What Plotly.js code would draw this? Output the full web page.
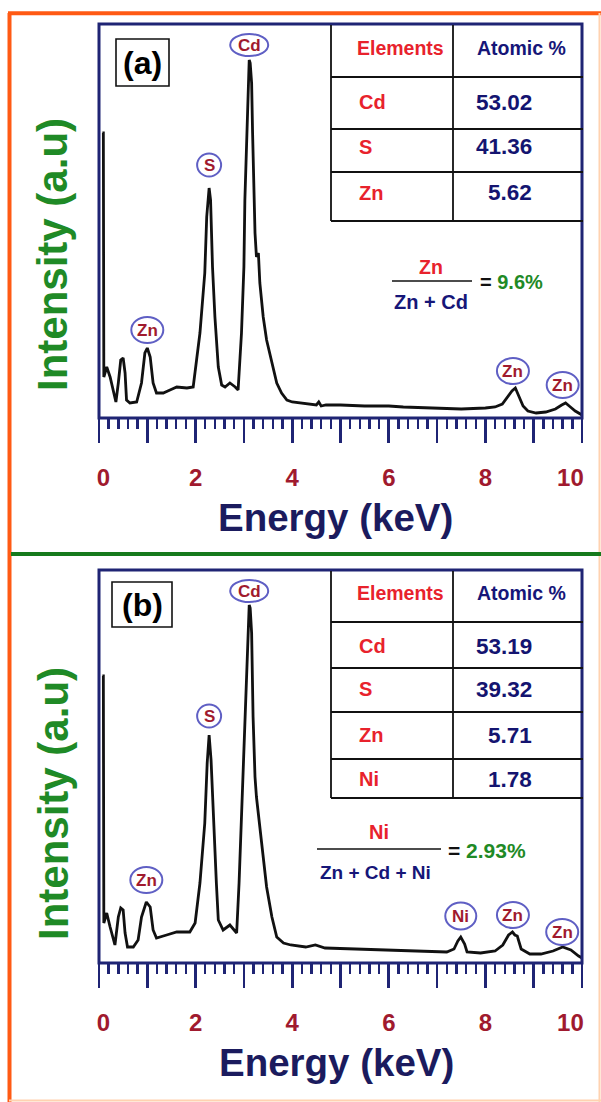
<!DOCTYPE html>
<html><head><meta charset="utf-8">
<script src="https://cdn.plot.ly/plotly-3.0.1.min.js"></script>
<style>html,body{margin:0;padding:0;background:#fff;}#chart{width:601px;height:1102px;}</style>
</head><body><div id="chart"></div>
<script>
// ---------- data ----------
const energyA = [0.07,0.09,0.10,0.16,0.23,0.30,0.35,0.40,0.45,0.50,0.54,0.57,0.64,0.78,0.88,0.95,1.00,1.06,1.12,1.19,1.33,1.47,1.61,1.82,1.95,2.02,2.09,2.19,2.23,2.28,2.31,2.35,2.40,2.47,2.54,2.61,2.71,2.82,2.88,2.95,3.00,3.02,3.06,3.09,3.11,3.13,3.16,3.18,3.21,3.23,3.26,3.30,3.33,3.40,3.47,3.58,3.68,3.78,3.89,4.0,4.3,4.5,4.55,4.6,4.7,5.0,5.5,6.0,6.3,7.0,7.5,8.0,8.2,8.35,8.45,8.55,8.62,8.7,8.78,8.88,9.05,9.25,9.45,9.58,9.66,9.76,9.86,10.0];
const intensityA = [285,285,41,51,41,25,16,35,58,60,45,18,15,16,35,65,70,61,35,25,25,28,31,30,31,58,85,145,201,230,218,151,101,51,33,31,35,31,28,85,151,218,285,330,358,355,335,285,218,185,161,165,135,101,78,55,35,25,18,16,14,13,16,12,13,13,12,12,11,10,9,10,11,14,20,27,30,21,12,7,5,6,9,13,15,11,7,3];
const energyB = [0.07,0.09,0.10,0.16,0.23,0.30,0.33,0.40,0.45,0.50,0.54,0.59,0.71,0.81,0.88,0.98,1.06,1.12,1.19,1.40,1.61,1.88,1.99,2.09,2.19,2.24,2.28,2.32,2.37,2.43,2.47,2.57,2.71,2.85,2.90,2.95,3.00,3.06,3.09,3.11,3.13,3.16,3.19,3.23,3.26,3.33,3.40,3.47,3.58,3.68,3.82,3.97,4.28,4.48,4.68,5.3,5.87,6.66,7.2,7.35,7.43,7.49,7.57,7.62,7.9,8.2,8.36,8.48,8.56,8.61,8.66,8.74,8.92,9.15,9.4,9.6,9.77,9.93,10.0];
const intensityB = [287,287,40,50,36,23,18,46,55,53,30,16,16,23,46,61,56,33,25,28,31,31,40,80,140,200,228,203,140,80,43,33,38,30,80,146,220,296,335,358,355,330,246,186,166,136,106,76,46,26,20,18,16,18,15,14,13,12,11,14,22,26,19,11,10,12,18,28,31,28,27,14,9,9,12,16,13,7,5];

const xTickValues = [0,1,2,3,4,5,6,7,8,9,10];
const xLabelTexts = ['0','2','4','6','8','10'];

const peakLabelsA = ['Cd','S','Zn','Zn','Zn'];
const peakEnergiesA = [3.11, 2.28, 1.00, 8.57, 9.60];
const peakLabelsB = ['Cd','S','Zn','Ni','Zn','Zn'];
const peakEnergiesB = [3.11, 2.28, 0.98, 7.49, 8.57, 9.59];

const elementsA = ['Cd','S','Zn'];
const atomicA = [53.02, 41.36, 5.62];
const elementsB = ['Cd','S','Zn','Ni'];
const atomicB = [53.19, 39.32, 5.71, 1.78];

const ratioA = 9.6;
const ratioB = 2.93;

// ---------- styling / layout helpers ----------
const W = 601, H = 1102;
const FONT = 'Liberation Sans, Arial, Helvetica, sans-serif';
const NAVY = '#1f2474';
const DARKRED = '#a01a2e';
const RED = '#e8222c';
const GREEN = '#1f8a26';
const px = x => x / W;
const py = y => 1 - y / H;
// where the tick label texts sit along the axis (end labels pulled inside the frame)
const xLabelPositions = [0.09, 2, 4, 6, 8, 9.76];

const shapes = [];
const annotations = [];

function pline(x0, y0, x1, y1, color, width) {
  shapes.push({type:'line', xref:'paper', yref:'paper', x0:px(x0), y0:py(y0), x1:px(x1), y1:py(y1),
    line:{color:color, width:width}, layer:'above'});
}
function prect(x0, y0, x1, y1, color, width) {
  shapes.push({type:'rect', xref:'paper', yref:'paper', x0:px(x0), y0:py(y0), x1:px(x1), y1:py(y1),
    line:{color:color, width:width}, fillcolor:'rgba(0,0,0,0)', layer:'above'});
}
function ptext(x, y, text, size, color, xanchor, angle) {
  annotations.push({xref:'paper', yref:'paper', x:px(x), y:py(y), text:text, showarrow:false,
    xanchor:xanchor || 'center', yanchor:'middle', textangle:angle || 0,
    font:{family:FONT, size:size, color:color}});
}

// outer decorative border
pline(9.5, 13, 9.5, 1102, '#ff5a14', 4);
pline(8, 13.3, 601, 13.3, '#ff5a14', 4);
pline(599.5, 13, 599.5, 1102, '#ffd2b0', 2);
pline(9, 1100.5, 601, 1100.5, '#ffd2b0', 2);
pline(11, 554, 601, 554, '#167a1c', 4);

// plot frames
prect(99, 24, 582, 418, NAVY, 3);
prect(99, 570, 582, 963, NAVY, 3);

// peak labels
const labelSize = {Cd:[38,22], S:[24,23], Zn:[32,26], Ni:[31,27]};
function peakNear(E, I, e0) {
  let m = 0;
  for (let i = 0; i < E.length; i++) if (Math.abs(E[i] - e0) <= 0.1) m = Math.max(m, I[i]);
  return m;
}
function addPeakLabels(names, energies, E, I, shifts, xr, yr) {
  names.forEach((n, i) => {
    const h = peakNear(E, I, energies[i]);
    const s = labelSize[n];
    shapes.push({type:'circle', xref:xr, yref:yr, xsizemode:'pixel', ysizemode:'pixel',
      xanchor:energies[i], yanchor:h, x0:-s[0]/2, x1:s[0]/2, y0:shifts[i]-s[1]/2, y1:shifts[i]+s[1]/2,
      line:{color:'#5f5fc4', width:2}, fillcolor:'white', layer:'above'});
    annotations.push({xref:xr, yref:yr, x:energies[i], y:h, yshift:shifts[i], text:'<b>'+n+'</b>',
      showarrow:false, xanchor:'center', yanchor:'middle',
      font:{family:FONT, size:17, color:DARKRED}});
  });
}
addPeakLabels(peakLabelsA, peakEnergiesA, energyA, intensityA, [15,23,18,17,18], 'x', 'y');
addPeakLabels(peakLabelsB, peakEnergiesB, energyB, intensityB, [14,19,22,21,17,15], 'x2', 'y2');

// tables
function drawTable(top, hLines, headerY, rowYs, elements, values) {
  const bottom = hLines[hLines.length - 1];
  pline(331, top, 331, bottom, '#111', 1.8);
  pline(453, top, 453, bottom, '#111', 1.8);
  hLines.forEach(y => pline(331, y, 583, y, '#111', 1.8));
  ptext(400, headerY, '<b>Elements</b>', 19.5, RED);
  ptext(521, headerY, '<b>Atomic %</b>', 19.5, '#161678');
  elements.forEach((e, i) => {
    ptext(357, rowYs[i], '<b>'+e+'</b>', 20, RED, 'left');
    ptext(534, rowYs[i], '<b>'+values[i].toFixed(2)+'</b>', 22.5, '#141470', 'right');
  });
}
drawTable(25, [77,129,172,221], 48, [102,147,193], elementsA, atomicA);
drawTable(571, [622,668,712,759,798], 593, [646,689,735,779], elementsB, atomicB);

// ratio fractions
ptext(431, 267, '<b>Zn</b>', 19.5, RED);
pline(392, 281, 472, 281, '#111', 1.6);
ptext(431, 302, '<b>Zn + Cd</b>', 20, '#161678');
ptext(478, 282, '<b>= <span style="color:'+GREEN+'">'+ratioA+'%</span></b>', 20, '#111', 'left');

ptext(379, 832, '<b>Ni</b>', 20, RED);
pline(317, 849, 441, 849, '#111', 1.6);
ptext(375, 872, '<b>Zn + Cd + Ni</b>', 19, '#161678');
ptext(446, 850, '<b>= <span style="color:'+GREEN+'">'+ratioB+'%</span></b>', 21, '#111', 'left');

// panel tags
prect(116, 39, 169, 86, '#111', 1.6);
ptext(142.5, 63, '<b>(a)</b>', 32, '#000');
prect(112, 582, 172, 627, '#111', 1.6);
ptext(142, 605, '<b>(b)</b>', 32, '#000');

// axis titles
ptext(336, 517, '<b>Energy (keV)</b>', 38.5, '#1b1b5e');
ptext(337, 1062, '<b>Energy (keV)</b>', 38.5, '#1b1b5e');
ptext(53, 255, '<b>Intensity (a.u)</b>', 42, GREEN, 'center', -90);
ptext(53, 804, '<b>Intensity (a.u)</b>', 42, GREEN, 'center', -90);

// axes
function xTickAxis(anchor) {
  return {domain:[px(99), px(582)], range:[0,10], anchor:anchor, showgrid:false, zeroline:false,
    showline:false, ticks:'outside', ticklen:24, tickwidth:2.6, tickcolor:NAVY,
    tickmode:'array', tickvals:xTickValues, showticklabels:false,
    minor:{tickmode:'linear', tick0:0, dtick:0.2, ticks:'outside', ticklen:10, tickwidth:2.4, tickcolor:NAVY, showgrid:false}};
}
function xLabelAxis(over, anchor) {
  return {domain:[px(99), px(582)], range:[0,10], overlaying:over, anchor:anchor, side:'bottom',
    showgrid:false, zeroline:false, showline:false, ticks:'',
    tickmode:'array', tickvals:xLabelPositions, ticktext:xLabelTexts, ticklabelstandoff:43,
    tickfont:{family:FONT, size:24, color:DARKRED, weight:'bold'}};
}
function yAxis(anchor, top, bottom, max) {
  return {domain:[py(bottom), py(top)], range:[0,max], anchor:anchor, showgrid:false, zeroline:false,
    showline:false, ticks:'', showticklabels:false};
}

const traces = [
  {x:energyA, y:intensityA, xaxis:'x', yaxis:'y', type:'scatter', mode:'lines',
   line:{color:'#111', width:2.8}, hoverinfo:'skip'},
  {x:energyB, y:intensityB, xaxis:'x2', yaxis:'y2', type:'scatter', mode:'lines',
   line:{color:'#111', width:2.8}, hoverinfo:'skip'},
  {x:[], y:[], xaxis:'x3', yaxis:'y', type:'scatter', mode:'lines', hoverinfo:'skip'},
  {x:[], y:[], xaxis:'x4', yaxis:'y2', type:'scatter', mode:'lines', hoverinfo:'skip'}
];

const layout = {
  width:W, height:H, margin:{l:0, r:0, t:0, b:0}, showlegend:false,
  paper_bgcolor:'#ffffff', plot_bgcolor:'#ffffff',
  xaxis:xTickAxis('y'), yaxis:yAxis('x', 24, 418, 394),
  xaxis2:xTickAxis('y2'), yaxis2:yAxis('x2', 570, 963, 393),
  xaxis3:xLabelAxis('x', 'y'), xaxis4:xLabelAxis('x2', 'y2'),
  shapes:shapes, annotations:annotations
};

Plotly.newPlot('chart', traces, layout, {displayModeBar:false, staticPlot:true});
</script></body></html>
